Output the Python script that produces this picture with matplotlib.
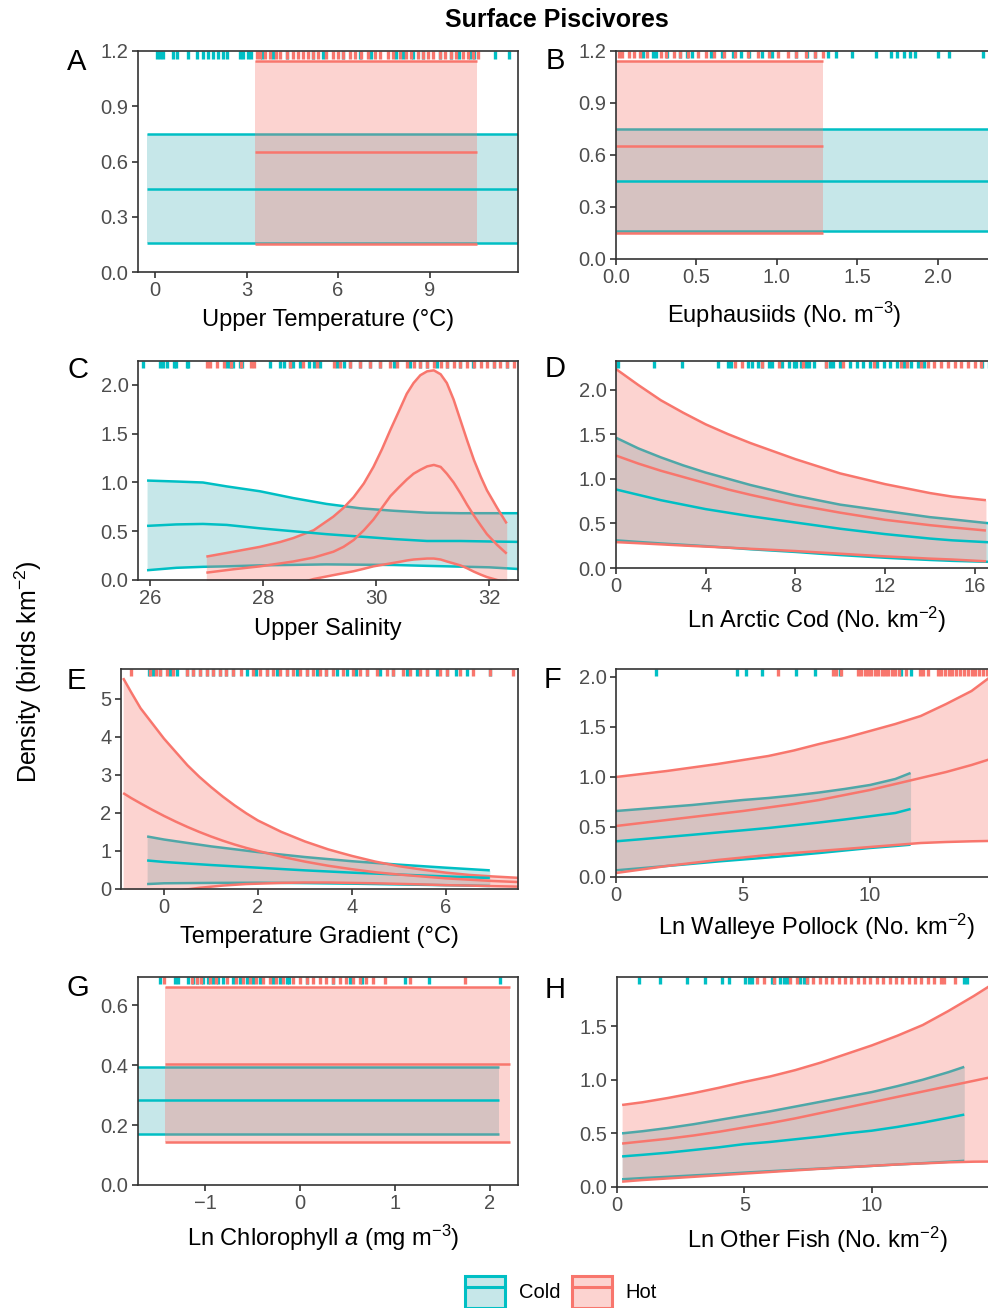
import matplotlib
matplotlib.use("Agg")
import matplotlib.pyplot as plt
from matplotlib.patches import Patch
from matplotlib.lines import Line2D
from matplotlib.colors import to_rgba

plt.rcParams['font.family'] = ['Liberation Sans', 'DejaVu Sans']
plt.rcParams['mathtext.fontset'] = 'custom'
plt.rcParams['mathtext.rm'] = 'Liberation Sans'
plt.rcParams['mathtext.it'] = 'Liberation Sans:italic'

COLD = '#00BFC4'
HOT = '#F8766D'
COLD_FILL = to_rgba('#1FA3A8', 0.25)
HOT_FILL = to_rgba(HOT, 0.32)
LW = 1.8

# ----- A : Upper Temperature -----
a_cold_x = [-0.25, 12.0]
a_cold_lo = [0.16, 0.16]
a_cold_mid = [0.45, 0.45]
a_cold_hi = [0.75, 0.75]
a_hot_x = [3.28, 10.55]
a_hot_lo = [0.15, 0.15]
a_hot_mid = [0.65, 0.65]
a_hot_hi = [1.145, 1.145]
a_rug_cold = [0.05, 0.16, 0.27, 0.6, 0.71, 1.09, 1.36, 1.58, 1.75, 1.91, 2.07, 2.24, 2.35, 2.78, 2.89,
              3.05, 3.16, 3.49, 3.87, 4.31, 5.18, 5.51, 6.16, 6.71, 7.09, 7.91, 8.13, 8.45, 8.78, 9.33,
              9.71, 9.98, 10.31, 10.47, 11.13, 11.62]
a_rug_hot = [3.33, 3.44, 3.6, 3.76, 3.98, 4.09, 4.31, 4.53, 4.69, 4.86, 5.02, 5.18, 5.35, 5.62, 5.84,
             6.0, 6.16, 6.38, 6.54, 6.76, 6.98, 7.2, 7.36, 7.64, 7.8, 8.02, 8.24, 8.4, 8.62, 8.78,
             8.95, 9.11, 9.33, 9.49, 9.71, 9.87, 10.09, 10.26, 10.42, 10.58]

# ----- B : Euphausiids -----
b_cold_x = [0.0, 2.6]
b_cold_lo = [0.16, 0.16]
b_cold_mid = [0.45, 0.45]
b_cold_hi = [0.75, 0.75]
b_hot_x = [0.0, 1.29]
b_hot_lo = [0.15, 0.15]
b_hot_mid = [0.65, 0.65]
b_hot_hi = [1.145, 1.145]
b_rug_cold = [0.17, 0.23, 0.25, 0.32, 0.40, 0.44, 0.47, 0.59, 0.66, 0.73, 0.78, 0.83, 0.91, 0.97, 1.12,
              1.19, 1.24, 1.32, 1.37, 1.47, 1.62, 1.71, 1.75, 1.79, 1.83, 1.86, 2.0, 2.07, 2.28]
b_rug_hot = [0.02, 0.04, 0.08, 0.11, 0.15, 0.19, 0.28, 0.31, 0.36, 0.40, 0.45, 0.51, 0.56, 0.61, 0.67,
             0.74, 0.82, 0.88, 0.95, 1.01, 1.07, 1.12, 1.18, 1.24, 1.29]

# ----- C : Upper Salinity -----
c_cold_x = [25.94, 26.46, 26.93, 27.35, 27.94, 28.53, 29.12, 29.72, 30.31, 30.90, 31.49, 32.0, 32.6]
c_cold_lo = [0.10, 0.125, 0.135, 0.14, 0.15, 0.155, 0.16, 0.157, 0.154, 0.145, 0.137, 0.13, 0.11]
c_cold_mid = [0.555, 0.57, 0.575, 0.565, 0.53, 0.50, 0.47, 0.445, 0.42, 0.40, 0.40, 0.395, 0.39]
c_cold_hi = [1.02, 1.01, 1.0, 0.96, 0.91, 0.84, 0.78, 0.735, 0.71, 0.69, 0.685, 0.685, 0.685]
c_hot_x = [26.99, 27.47, 27.94, 28.3, 28.53, 28.89, 29.24, 29.42, 29.60, 29.78, 29.95, 30.1, 30.25,
           30.4, 30.54, 30.66, 30.78, 30.9, 31.02, 31.14, 31.25, 31.37, 31.49, 31.61, 31.73, 31.85,
           31.96, 32.14, 32.31]
c_hot_lo = [-0.24, -0.2, -0.15, -0.09, -0.05, 0.01, 0.05, 0.07, 0.09, 0.115, 0.14, 0.155, 0.17, 0.185,
            0.2, 0.21, 0.215, 0.22, 0.22, 0.21, 0.19, 0.17, 0.15, 0.12, 0.085, 0.055, 0.03, 0.0, -0.03]
c_hot_mid = [0.075, 0.11, 0.14, 0.17, 0.19, 0.23, 0.29, 0.34, 0.41, 0.51, 0.62, 0.74, 0.86, 0.95, 1.03,
             1.09, 1.13, 1.165, 1.18, 1.16, 1.09, 1.0, 0.89, 0.77, 0.66, 0.56, 0.47, 0.36, 0.27]
c_hot_hi = [0.24, 0.29, 0.34, 0.39, 0.43, 0.51, 0.65, 0.74, 0.85, 0.99, 1.16, 1.34, 1.54, 1.73, 1.91,
            2.02, 2.10, 2.14, 2.15, 2.11, 2.02, 1.85, 1.64, 1.43, 1.23, 1.06, 0.92, 0.74, 0.58]
c_rug_cold = [25.87, 26.17, 26.23, 26.29, 26.41, 26.46, 26.64, 26.67, 27.35, 27.41, 27.47, 27.59, 27.62,
              28.12, 28.30, 28.36, 28.47, 28.53, 28.65, 28.80, 28.89, 29.01, 29.30, 29.42, 29.54, 29.72,
              29.89, 30.07, 30.31, 30.60, 30.78, 30.90, 31.08, 31.25, 31.49, 31.72, 32.08, 32.31]
c_rug_hot = [27.0, 27.06, 27.18, 27.30, 27.42, 27.60, 27.78, 27.84, 28.47, 28.71, 28.95, 29.25, 29.36,
             29.54, 29.72, 29.89, 30.07, 30.25, 30.37, 30.54, 30.66, 30.78, 30.90, 31.02, 31.14, 31.25,
             31.37, 31.49, 31.61, 31.73, 31.85, 31.96, 32.08, 32.20, 32.32, 32.44]

# ----- D : Ln Arctic Cod -----
d_cold_x = [0, 1, 2, 3, 4, 5, 6, 7, 8, 9, 10, 11, 12, 13, 14, 15, 16.5, 18]
d_cold_lo = [0.31, 0.292, 0.275, 0.26, 0.245, 0.228, 0.21, 0.195, 0.18, 0.162, 0.145, 0.13, 0.115,
             0.102, 0.09, 0.08, 0.07, 0.06]
d_cold_mid = [0.88, 0.82, 0.76, 0.71, 0.66, 0.62, 0.58, 0.545, 0.51, 0.475, 0.44, 0.41, 0.38, 0.355,
              0.33, 0.31, 0.29, 0.27]
d_cold_hi = [1.46, 1.34, 1.24, 1.15, 1.07, 1.0, 0.93, 0.87, 0.81, 0.76, 0.71, 0.675, 0.64, 0.605, 0.57,
             0.545, 0.505, 0.47]
d_hot_x = [0, 1, 2, 3, 4, 5, 6, 7, 8, 9, 10, 11, 12, 13, 14, 15, 16.5]
d_hot_lo = [0.29, 0.278, 0.265, 0.252, 0.24, 0.228, 0.215, 0.203, 0.19, 0.175, 0.16, 0.145, 0.13,
            0.118, 0.105, 0.095, 0.075]
d_hot_mid = [1.26, 1.17, 1.09, 1.02, 0.95, 0.88, 0.82, 0.765, 0.71, 0.665, 0.62, 0.58, 0.54, 0.51, 0.48,
             0.455, 0.42]
d_hot_hi = [2.23, 2.05, 1.88, 1.74, 1.61, 1.50, 1.40, 1.31, 1.22, 1.14, 1.06, 1.0, 0.94, 0.89, 0.84,
            0.80, 0.76]
d_rug_cold = [0.09, 1.68, 2.96, 4.54, 5.0, 5.15, 5.9, 6.05, 6.35, 6.51, 6.81, 6.96, 7.41, 7.71, 7.94,
              8.02, 8.24, 8.47, 8.62, 8.85, 9.38, 9.53, 9.68, 9.98, 10.43, 10.73, 11.03, 11.34, 11.64,
              11.94, 12.24, 12.54, 12.84, 13.14, 13.45, 13.75, 16.32, 16.62]
d_rug_hot = [5.3, 5.6, 6.51, 7.26, 8.32, 9.38, 10.13, 11.49, 12.69, 13.0, 13.6, 13.9, 14.2, 14.5, 14.8,
             15.1, 15.4, 15.7, 16.0, 16.3, 16.7, 17.0]

# ----- E : Temperature Gradient -----
e_cold_x = [-0.36, 0, 1, 2, 3, 4, 5, 6, 6.94]
e_cold_lo = [0.13, 0.15, 0.16, 0.165, 0.155, 0.14, 0.12, 0.1, 0.08]
e_cold_mid = [0.75, 0.71, 0.63, 0.56, 0.49, 0.43, 0.38, 0.33, 0.29]
e_cold_hi = [1.38, 1.3, 1.12, 0.97, 0.84, 0.73, 0.64, 0.56, 0.49]
e_hot_x = [-0.87, -0.7, -0.5, -0.25, 0, 0.25, 0.5, 0.75, 1, 1.25, 1.5, 1.75, 2, 2.5, 3, 3.5, 4, 4.5,
           5, 5.5, 6, 6.5, 7, 7.6]
e_hot_lo = [-0.35, -0.29, -0.22, -0.15, -0.09, -0.05, -0.01, 0.03, 0.06, 0.09, 0.11, 0.13, 0.14, 0.16,
            0.17, 0.17, 0.16, 0.15, 0.135, 0.12, 0.1, 0.09, 0.075, 0.06]
e_hot_mid = [2.52, 2.39, 2.25, 2.08, 1.92, 1.77, 1.63, 1.5, 1.38, 1.27, 1.17, 1.08, 1.0, 0.85, 0.72,
             0.61, 0.52, 0.44, 0.38, 0.33, 0.28, 0.245, 0.21, 0.18]
e_hot_hi = [5.54, 5.17, 4.75, 4.35, 3.95, 3.6, 3.25, 2.95, 2.68, 2.43, 2.2, 1.99, 1.8, 1.5, 1.25, 1.04,
            0.87, 0.72, 0.6, 0.51, 0.43, 0.37, 0.33, 0.29]
e_rug_cold = [-0.33, -0.23, -0.09, 0.13, 0.27, 0.48, 0.62, 0.77, 0.91, 1.05, 1.19, 1.33, 1.48, 1.76,
              1.97, 2.19, 2.40, 2.61, 2.83, 3.04, 3.25, 3.46, 3.68, 3.89, 4.10, 4.32, 4.60, 4.88, 5.17,
              5.38, 5.60, 5.81, 6.02, 6.23, 6.45, 6.94]
e_rug_hot = [-0.71, -0.30, -0.16, -0.09, 0.06, 0.20, 0.48, 0.62, 0.77, 0.91, 1.05, 1.19, 1.33, 1.48,
             1.65, 1.90, 2.04, 2.19, 2.33, 2.47, 2.61, 2.75, 2.90, 3.04, 3.18, 3.32, 3.46, 3.61, 3.82,
             4.03, 4.17, 4.32, 4.53, 4.74, 4.88, 5.10, 5.24, 5.45, 5.60, 5.88, 6.02, 6.30, 6.59, 6.94, 7.44]

# ----- F : Ln Walleye Pollock -----
f_cold_x = [0, 1, 2, 3, 4, 5, 6, 7, 8, 9, 10, 11, 11.6]
f_cold_lo = [0.067, 0.088, 0.11, 0.132, 0.155, 0.175, 0.195, 0.217, 0.24, 0.265, 0.29, 0.31, 0.323]
f_cold_mid = [0.357, 0.378, 0.40, 0.422, 0.445, 0.467, 0.49, 0.517, 0.545, 0.575, 0.607, 0.64, 0.68]
f_cold_hi = [0.66, 0.68, 0.70, 0.72, 0.745, 0.77, 0.79, 0.815, 0.845, 0.88, 0.92, 0.98, 1.04]
f_hot_x = [0, 1, 2, 3, 4, 5, 6, 7, 8, 9, 10, 11, 12, 13, 14, 15, 15.9]
f_hot_lo = [0.04, 0.075, 0.11, 0.14, 0.17, 0.195, 0.22, 0.24, 0.26, 0.28, 0.3, 0.32, 0.34, 0.35, 0.357,
            0.362, 0.365]
f_hot_mid = [0.51, 0.54, 0.57, 0.60, 0.63, 0.66, 0.695, 0.73, 0.77, 0.82, 0.87, 0.93, 0.99, 1.05, 1.12,
             1.2, 1.27]
f_hot_hi = [1.0, 1.03, 1.06, 1.095, 1.13, 1.17, 1.21, 1.265, 1.33, 1.39, 1.46, 1.53, 1.61, 1.73, 1.86,
            2.05, 2.22]
f_rug_cold = [1.56, 4.76, 5.13, 5.76, 7.1, 7.82, 8.81, 11.23, 11.63]
f_rug_hot = [6.38, 8.54, 8.67, 8.87, 9.53, 9.66, 9.80, 9.93, 10.06, 10.2, 10.33, 10.46, 10.6, 10.73,
             10.86, 11.0, 11.13, 11.4, 11.96, 12.1, 12.29, 12.68, 12.8, 12.95, 13.1, 13.25, 13.4, 13.55,
             13.7, 13.85, 14.0, 14.15, 14.3, 14.45, 14.6, 14.75]

# ----- G : Ln Chlorophyll a -----
g_cold_x = [-1.8, 2.1]
g_cold_lo = [0.17, 0.17]
g_cold_mid = [0.285, 0.285]
g_cold_hi = [0.395, 0.395]
g_hot_x = [-1.42, 2.22]
g_hot_lo = [0.145, 0.145]
g_hot_mid = [0.405, 0.405]
g_hot_hi = [0.66, 0.66]
g_rug_cold = [-1.47, -1.32, -1.29, -1.18, -1.13, -1.09, -1.02, -0.97, -0.92, -0.86, -0.81, -0.70, -0.63,
              -0.56, -0.49, -0.42, -0.28, -0.21, -0.14, -0.11, 0.07, 0.35, 0.53, 0.65, 1.11, 1.36, 2.11]
g_rug_hot = [-1.43, -1.14, -1.09, -1.04, -0.95, -0.88, -0.77, -0.67, -0.60, -0.53, -0.46, -0.39, -0.32,
             -0.25, -0.18, -0.07, 0.0, 0.07, 0.14, 0.21, 0.28, 0.35, 0.42, 0.49, 0.56, 0.63, 0.70, 0.77,
             0.90, 1.16, 1.74]

# ----- H : Ln Other Fish -----
h_cold_x = [0.2, 1, 2, 3, 4, 5, 6, 7, 8, 9, 10, 11, 12, 13, 13.63]
h_cold_lo = [0.072, 0.083, 0.095, 0.108, 0.12, 0.134, 0.147, 0.16, 0.172, 0.185, 0.197, 0.21, 0.222,
             0.235, 0.244]
h_cold_mid = [0.285, 0.30, 0.32, 0.345, 0.37, 0.40, 0.42, 0.445, 0.47, 0.50, 0.525, 0.56, 0.60, 0.645,
              0.675]
h_cold_hi = [0.50, 0.52, 0.55, 0.585, 0.625, 0.665, 0.705, 0.75, 0.795, 0.84, 0.885, 0.94, 1.0, 1.07,
             1.12]
h_hot_x = [0.2, 1, 2, 3, 4, 5, 6, 7, 8, 9, 10, 11, 12, 13, 14, 15, 15.8]
h_hot_lo = [0.05, 0.065, 0.08, 0.095, 0.11, 0.125, 0.14, 0.155, 0.17, 0.183, 0.197, 0.21, 0.22, 0.23,
            0.236, 0.238, 0.24]
h_hot_mid = [0.405, 0.425, 0.45, 0.48, 0.515, 0.555, 0.595, 0.64, 0.69, 0.74, 0.79, 0.84, 0.89, 0.94,
             0.99, 1.04, 1.08]
h_hot_hi = [0.765, 0.79, 0.83, 0.875, 0.925, 0.98, 1.03, 1.09, 1.16, 1.24, 1.32, 1.41, 1.51, 1.64, 1.78,
            1.93, 2.05]
h_rug_cold = [0.88, 1.68, 2.75, 3.44, 4.12, 4.38, 5.04, 5.17, 5.30, 6.09, 6.15, 6.41, 6.54, 6.68, 7.20,
              7.33, 7.46, 13.61, 13.72]
h_rug_hot = [5.50, 5.76, 6.15, 6.81, 7.07, 7.46, 7.7, 7.95, 8.2, 8.45, 8.7, 8.95, 9.2, 9.45, 9.7, 9.95,
             10.2, 10.45, 10.7, 10.95, 11.2, 11.45, 11.7, 11.95, 12.2, 12.45, 12.7, 12.85, 13.28]


W, H = 988, 1308
fig = plt.figure(figsize=(W / 100, H / 100), dpi=100)


def panel(rect, letter, letter_xy, xlim, ylim, xticks, xticklabels, yticks, yticklabels,
          xlabel, xlabel_xy, cold, hot, rug_c, rug_h):
    l, t, r, b = rect
    ax = fig.add_axes([l / W, 1 - b / H, (r - l) / W, (b - t) / H])

    # rubans avec leurs bornes (froid puis chaud, le chaud recouvre les bornes froides),
    # puis les moyennes par dessus
    z = 1.0
    for (x, lo, mid, hi), line_col, fill_col in [(cold, COLD, COLD_FILL), (hot, HOT, HOT_FILL)]:
        ax.fill_between(x, lo, hi, color=fill_col, lw=0, zorder=z)
        ax.plot(x, lo, color=line_col, lw=LW, solid_capstyle='butt', zorder=z + 0.1)
        ax.plot(x, hi, color=line_col, lw=LW, solid_capstyle='butt', zorder=z + 0.1)
        z += 0.2
    ax.plot(cold[0], cold[2], color=COLD, lw=LW, solid_capstyle='butt', zorder=2)
    ax.plot(hot[0], hot[2], color=HOT, lw=LW, solid_capstyle='butt', zorder=2.1)

    # rug en haut du panneau
    tr = ax.get_xaxis_transform()
    ax.vlines(rug_c, 0.966, 1.0, transform=tr, color=COLD, lw=2.4, zorder=2.2)
    ax.vlines(rug_h, 0.966, 1.0, transform=tr, color=HOT, lw=2.4, zorder=2.3)

    ax.set_xlim(xlim)
    ax.set_ylim(ylim)
    ax.set_xticks(xticks)
    ax.set_xticklabels(xticklabels)
    ax.set_yticks(yticks)
    ax.set_yticklabels(yticklabels)
    ax.tick_params(direction='out', length=4.3, width=1.2, color='#333333',
                   labelsize=14.5, labelcolor='#4D4D4D', pad=2.5)
    for s in ax.spines.values():
        s.set_color('#333333')
        s.set_linewidth(1.2)

    ax.set_xlabel(xlabel, fontsize=17)
    ax.xaxis.set_label_coords(xlabel_xy[0] / W, 1 - xlabel_xy[1] / H, transform=fig.transFigure)
    ax.xaxis.label.set_va('center')

    fig.text(letter_xy[0] / W, 1 - letter_xy[1] / H, letter, fontsize=21, ha='center', va='center')
    return ax


panel((138, 51, 518, 272), 'A', (77, 62), (-0.56, 11.9), (0, 1.2),
      [0, 3, 6, 9], ['0', '3', '6', '9'], [0, 0.3, 0.6, 0.9, 1.2], ['0.0', '0.3', '0.6', '0.9', '1.2'],
      'Upper Temperature (°C)', (328, 320),
      (a_cold_x, a_cold_lo, a_cold_mid, a_cold_hi), (a_hot_x, a_hot_lo, a_hot_mid, a_hot_hi),
      a_rug_cold, a_rug_hot)

panel((616, 51, 1018, 259), 'B', (555, 61), (0, 2.5), (0, 1.2),
      [0, 0.5, 1.0, 1.5, 2.0], ['0.0', '0.5', '1.0', '1.5', '2.0'],
      [0, 0.3, 0.6, 0.9, 1.2], ['0.0', '0.3', '0.6', '0.9', '1.2'],
      'Euphausiids (No. m$^{-3}$)', (784, 315),
      (b_cold_x, b_cold_lo, b_cold_mid, b_cold_hi), (b_hot_x, b_hot_lo, b_hot_mid, b_hot_hi),
      b_rug_cold, b_rug_hot)

panel((138, 361, 518, 580), 'C', (78, 370), (25.78, 32.51), (0, 2.246),
      [26, 28, 30, 32], ['26', '28', '30', '32'],
      [0, 0.5, 1.0, 1.5, 2.0], ['0.0', '0.5', '1.0', '1.5', '2.0'],
      'Upper Salinity', (328, 629),
      (c_cold_x, c_cold_lo, c_cold_mid, c_cold_hi), (c_hot_x, c_hot_lo, c_hot_mid, c_hot_hi),
      c_rug_cold, c_rug_hot)

panel((616, 361, 1018, 568), 'D', (555, 369), (0, 17.93), (0, 2.32),
      [0, 4, 8, 12, 16], ['0', '4', '8', '12', '16'],
      [0, 0.5, 1.0, 1.5, 2.0], ['0.0', '0.5', '1.0', '1.5', '2.0'],
      'Ln Arctic Cod (No. km$^{-2}$)', (817, 620),
      (d_cold_x, d_cold_lo, d_cold_mid, d_cold_hi), (d_hot_x, d_hot_lo, d_hot_mid, d_hot_hi),
      d_rug_cold, d_rug_hot)

panel((121, 669, 518, 889), 'E', (76, 681), (-0.916, 7.54), (0, 5.78),
      [0, 2, 4, 6], ['0', '2', '4', '6'],
      [0, 1, 2, 3, 4, 5], ['0', '1', '2', '3', '4', '5'],
      'Temperature Gradient (°C)', (319, 937),
      (e_cold_x, e_cold_lo, e_cold_mid, e_cold_hi), (e_hot_x, e_hot_lo, e_hot_mid, e_hot_hi),
      e_rug_cold, e_rug_hot)

panel((616, 669, 1018, 877), 'F', (553, 680), (0, 15.83), (0, 2.08),
      [0, 5, 10], ['0', '5', '10'],
      [0, 0.5, 1.0, 1.5, 2.0], ['0.0', '0.5', '1.0', '1.5', '2.0'],
      'Ln Walleye Pollock (No. km$^{-2}$)', (817, 927),
      (f_cold_x, f_cold_lo, f_cold_mid, f_cold_hi), (f_hot_x, f_hot_lo, f_hot_mid, f_hot_hi),
      f_rug_cold, f_rug_hot)

panel((138, 977, 518, 1185), 'G', (78, 988), (-1.707, 2.3), (0, 0.695),
      [-1, 0, 1, 2], ['\u22121', '0', '1', '2'],
      [0, 0.2, 0.4, 0.6], ['0.0', '0.2', '0.4', '0.6'],
      'Ln Chlorophyll $a$ (mg m$^{-3}$)', (323, 1238),
      (g_cold_x, g_cold_lo, g_cold_mid, g_cold_hi), (g_hot_x, g_hot_lo, g_hot_mid, g_hot_hi),
      g_rug_cold, g_rug_hot)

panel((617, 977, 1018, 1187), 'H', (555, 990), (0, 15.74), (0, 1.958),
      [0, 5, 10], ['0', '5', '10'],
      [0, 0.5, 1.0, 1.5], ['0.0', '0.5', '1.0', '1.5'],
      'Ln Other Fish (No. km$^{-2}$)', (817, 1240),
      (h_cold_x, h_cold_lo, h_cold_mid, h_cold_hi), (h_hot_x, h_hot_lo, h_hot_mid, h_hot_hi),
      h_rug_cold, h_rug_hot)

fig.text(557 / W, 1 - 20 / H, 'Surface Piscivores', fontsize=18, fontweight='bold', ha='center', va='center')
fig.text(28 / W, 1 - 672 / H, 'Density (birds km$^{-2}$)', fontsize=18, rotation=90, ha='center', va='center')

# légende : carré rempli + trait au milieu (superposés)
handles = [(Patch(facecolor=COLD_FILL, edgecolor=COLD, lw=2.2), Line2D([], [], color=COLD, lw=2.2)),
           (Patch(facecolor=HOT_FILL, edgecolor=HOT, lw=2.2), Line2D([], [], color=HOT, lw=2.2))]
fig.legend(handles, ['Cold', 'Hot'], ncol=2, frameon=False, loc='center',
           bbox_to_anchor=(561 / W, 1 - 1292 / H),
           handlelength=2.0, handleheight=2.0, fontsize=14.5, handletextpad=0.65, columnspacing=0.6)

fig.savefig('out.png', dpi=100)
